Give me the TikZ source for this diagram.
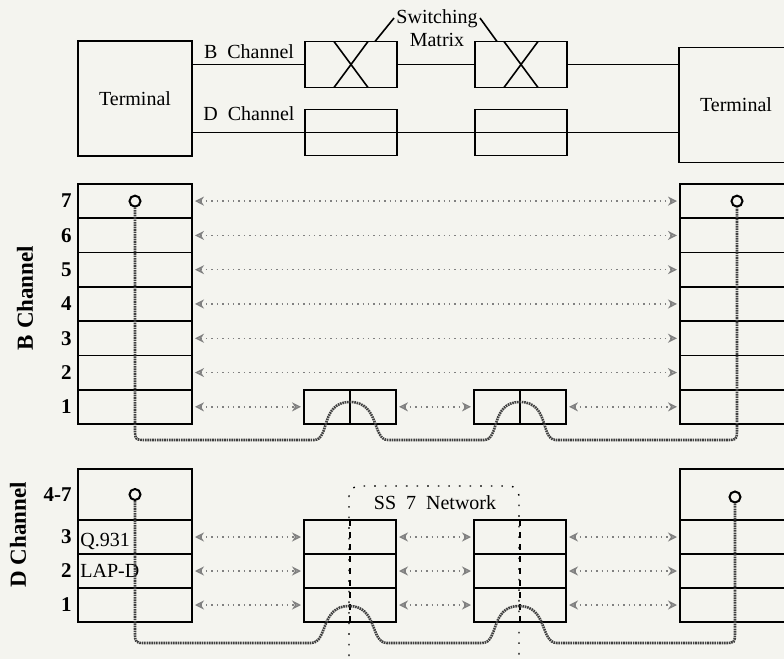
\documentclass[tikz,border=0pt]{standalone}
\usepackage{fontspec}
\setmainfont{Liberation Serif}
\usetikzlibrary{arrows.meta}
\definecolor{paper}{RGB}{244,244,239}
\begin{document}
\begin{tikzpicture}[x=0.5pt,y=-0.5pt,every node/.style={font=\fontsize{10}{11.5}\selectfont},
  box/.style={draw,line width=0.9pt,inner sep=0pt,outer sep=0pt},
  term/.style={box,minimum width=57pt,minimum height=57.5pt},
  relay/.style={box,minimum width=46pt,minimum height=23pt},
  brow/.style={box,minimum width=57pt,minimum height=17.14pt},
  drow/.style={box,minimum width=57pt,minimum height=17pt},
  wire/.style={line width=0.8pt},
  num/.style={anchor=east,inner sep=0pt,font=\bfseries\fontsize{10.5}{12}\selectfont},
  side/.style={rotate=90,font=\bfseries\fontsize{11.5}{13}\selectfont},
  port/.style={circle,draw,line width=1pt,minimum size=5.5pt,inner sep=0pt,fill=paper},
  sig/.style={gray,dotted,line width=0.7pt,{Stealth[open,length=4.5pt,width=4.5pt]}-{Stealth[open,length=4.5pt,width=4.5pt]},shorten <=1.5pt,shorten >=1.5pt},
  wavy/.style={line width=1.3pt,black!75,dash pattern=on 0.8pt off 0.4pt},
  ssnet/.style={line width=0.7pt,dash pattern=on 0.8pt off 4.5pt,rounded corners=5pt}]
\clip (0,0) rectangle (784,659);
\fill[paper] (0,0) rectangle (784,659);
% terminals with B and D channel through the switching matrix
\node[term] (lterm) at (135,98.5) {Terminal};
\node[term] (rterm) at (736,105) {Terminal};
\node[relay] (bsw1) at (351,64.5) {};
\node[relay] (bsw2) at (521,64.5) {};
\node[relay] (dsw1) at (351,132.5) {};
\node[relay] (dsw2) at (521,132.5) {};
\foreach \s in {bsw1,bsw2} \draw[wire] ([xshift=-8.5pt]\s.south) -- ([xshift=8.5pt]\s.north) ([xshift=-8.5pt]\s.north) -- ([xshift=8.5pt]\s.south);
\draw[wire] (bsw1.west -| lterm.east) -- (bsw1.west) (bsw1.east) -- (bsw2.west) (bsw2.east) -- (bsw2.east -| rterm.west);
\draw[wire] (dsw1.west -| lterm.east) -- (dsw2.east -| rterm.west);
\node (blab) at (249,52) {B\enspace Channel};
\node (dlab) at (249,114) {D\enspace Channel};
\node[align=center,inner sep=1pt] (swm) at (437,28) {Switching\\Matrix};
\draw[wire] ([yshift=5pt]swm.west) -- ([xshift=12pt]bsw1.north);
\draw[wire] ([yshift=5pt]swm.east) -- ([xshift=-12pt]bsw2.north);
% B channel layers 1..7
\node[side] (bside) at (25,298) {B Channel};
\foreach \i in {1,...,7} {
  \node[brow] (lb\i) at (135,{424-(\i-0.5)*34.29}) {};
  \node[brow] (rb\i) at (737,{424-(\i-0.5)*34.29}) {};
  \node[num] at ([xshift=-3pt]lb\i.west) {\i};
}
\node[brow,minimum width=46pt] (br1) at (350,{424-0.5*34.29}) {};
\node[brow,minimum width=46pt] (br2) at (520,{424-0.5*34.29}) {};
\draw[box] (br1.north) -- (br1.south) (br2.north) -- (br2.south);
\foreach \i in {2,...,7} \draw[sig] (lb\i) -- (rb\i);
\draw[sig] (lb1) -- (br1); \draw[sig] (br1) -- (br2); \draw[sig] (br2) -- (rb1);
\node[port] (lpb) at (lb7.center) {};
\node[port] (rpb) at (rb7.center) {};
\draw[wavy] (lpb.south) -- (135,428) .. controls (135,440) .. (147,440) -- (314,440)
  .. controls (330,440) and (320,402) .. (350,402) .. controls (380,402) and (372,440) .. (388,440) -- (484,440)
  .. controls (500,440) and (490,402) .. (520,402) .. controls (550,402) and (540,440) .. (556,440) -- (725,440)
  .. controls (737,440) .. (737,428) -- (rpb.south);
% D channel: Q.931 over LAP-D, SS 7 between the exchanges
\node[side] (dside) at (18,535) {D Channel};
\node[drow,minimum height=25.5pt] (ld47) at (135,494.5) {};
\node[drow,minimum height=25.5pt] (rd47) at (737,494.5) {};
\node[num] at ([xshift=-3pt]ld47.west) {4-7};
\foreach \i in {1,2,3} {
  \node[drow] (ld\i) at (135,{622-(\i-0.5)*34}) {};
  \node[drow] (rd\i) at (737,{622-(\i-0.5)*34}) {};
  \node[drow,minimum width=46pt] (ma\i) at (350,{622-(\i-0.5)*34}) {};
  \node[drow,minimum width=46pt] (mb\i) at (520,{622-(\i-0.5)*34}) {};
  \node[num] at ([xshift=-3pt]ld\i.west) {\i};
  \draw[sig] (ld\i) -- (ma\i); \draw[sig] (ma\i) -- (mb\i); \draw[sig] (mb\i) -- (rd\i);
}
\node[anchor=west,inner sep=1pt] (q931) at ([yshift=-2pt]ld3.west) {Q.931};
\node[anchor=west,inner sep=1pt] (lapd) at (ld2.west) {LAP-D};
\draw[ssnet] (349,656) |- (519,486) -- (519,656);
\draw[line width=0.9pt,dashed] (ma3.north) -- (ma1.south) (mb3.north) -- (mb1.south);
\node (ssn) at (435,503) {SS\enspace 7\enspace Network};
\node[port] (lpd) at (ld47.center) {};
\node[port] (rpd) at (735,497) {};
\draw[wavy] (lpd.south) -- (135,632) .. controls (135,643) .. (146,643) -- (311,643)
  .. controls (328,643) and (320,606) .. (349,606) .. controls (378,606) and (370,643) .. (387,643) -- (482,643)
  .. controls (499,643) and (490,606) .. (519,606) .. controls (548,606) and (540,643) .. (557,643) -- (724,643)
  .. controls (735,643) .. (735,632) -- (rpd.south);
\end{tikzpicture}
\end{document}
